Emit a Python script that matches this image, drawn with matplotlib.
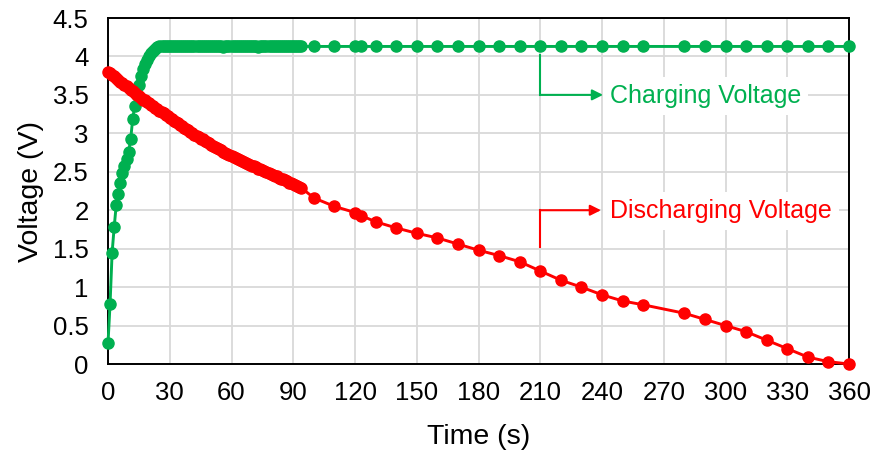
import matplotlib
matplotlib.use("Agg")
import matplotlib.pyplot as plt

plt.rcParams['font.family'] = ['Liberation Sans', 'DejaVu Sans']

# ---- data ----
dense_time = list(range(0, 95))
sparse_time = [100, 110, 120, 123, 130, 140, 150, 160, 170, 180, 190, 200, 210, 220,
               230, 240, 250, 260, 280, 290, 300, 310, 320, 330, 340, 350, 360]

charge_dense = [0.27, 0.78, 1.45, 1.78, 2.07, 2.21, 2.36, 2.48, 2.58, 2.66,
                2.76, 2.92, 3.19, 3.36, 3.50, 3.63, 3.75, 3.84, 3.90, 3.95,
                4.00, 4.04, 4.07, 4.10, 4.12, 4.13, 4.13, 4.14, 4.13, 4.13,
                4.14, 4.13, 4.13, 4.13, 4.14, 4.13, 4.13, 4.13, 4.13, 4.14,
                4.13, 4.13, 4.14, 4.13, 4.13, 4.13, 4.13, 4.14, 4.13, 4.13,
                4.13, 4.13, 4.14, 4.13, 4.13, 4.13, 4.12, 4.13, 4.13, 4.14,
                4.13, 4.13, 4.13, 4.13, 4.14, 4.13, 4.13, 4.13, 4.13, 4.13,
                4.14, 4.13, 4.13, 4.12, 4.13, 4.13, 4.14, 4.13, 4.13, 4.13,
                4.13, 4.13, 4.14, 4.13, 4.13, 4.13, 4.13, 4.13, 4.13, 4.14,
                4.13, 4.13, 4.13, 4.13, 4.13]
charge_sparse = [4.13, 4.13, 4.13, 4.13, 4.13, 4.13, 4.13, 4.13, 4.13, 4.13,
                 4.13, 4.13, 4.13, 4.13, 4.13, 4.13, 4.13, 4.13, 4.13, 4.13,
                 4.13, 4.13, 4.13, 4.13, 4.13, 4.13, 4.13]

discharge_dense = [3.80, 3.78, 3.76, 3.74, 3.72, 3.69, 3.67, 3.65, 3.63, 3.61,
                   3.59, 3.57, 3.55, 3.52, 3.50, 3.48, 3.46, 3.44, 3.43, 3.41,
                   3.39, 3.37, 3.35, 3.33, 3.31, 3.29, 3.28, 3.26, 3.24, 3.22,
                   3.20, 3.18, 3.16, 3.15, 3.13, 3.11, 3.09, 3.07, 3.06, 3.04,
                   3.02, 3.00, 2.98, 2.97, 2.95, 2.93, 2.92, 2.90, 2.89, 2.87,
                   2.85, 2.84, 2.82, 2.81, 2.79, 2.78, 2.76, 2.75, 2.73, 2.72,
                   2.70, 2.69, 2.68, 2.67, 2.65, 2.64, 2.63, 2.62, 2.60, 2.59,
                   2.58, 2.57, 2.56, 2.54, 2.53, 2.52, 2.51, 2.50, 2.48, 2.47,
                   2.46, 2.45, 2.44, 2.42, 2.41, 2.40, 2.39, 2.38, 2.36, 2.35,
                   2.34, 2.33, 2.32, 2.30, 2.29]
discharge_sparse = [2.16, 2.05, 1.97, 1.93, 1.85, 1.77, 1.70, 1.64, 1.56, 1.48,
                    1.41, 1.33, 1.21, 1.09, 1.00, 0.90, 0.82, 0.77, 0.66, 0.58,
                    0.50, 0.42, 0.31, 0.20, 0.09, 0.03, 0.00]

x_ticks = list(range(0, 361, 30))
y_ticks = [0, 0.5, 1, 1.5, 2, 2.5, 3, 3.5, 4, 4.5]
y_tick_labels = ['0', '0.5', '1', '1.5', '2', '2.5', '3', '3.5', '4', '4.5']

charge_label = 'Charging Voltage'
discharge_label = 'Discharging Voltage'

GREEN = '#00B050'
RED = '#FF0000'

# ---- figure ----
fig = plt.figure(figsize=(8.74, 4.5), dpi=100)
ax = fig.add_axes([108 / 874, 1 - 364 / 450, (849 - 108) / 874, (364 - 18) / 450])

t_all = dense_time + sparse_time
ax.plot(t_all, charge_dense + charge_sparse, color=GREEN, lw=2.1, marker='o',
        markersize=8, zorder=3, clip_on=False)
ax.plot(t_all, discharge_dense + discharge_sparse, color=RED, lw=2.1, marker='o',
        markersize=8, zorder=4, clip_on=False)

ax.set_xlim(0, 360)
ax.set_ylim(0, 4.5)
ax.set_xticks(x_ticks)
ax.set_yticks(y_ticks)
ax.set_yticklabels(y_tick_labels)
ax.grid(True, color='#D9D9D9', lw=1.3, zorder=0)
ax.set_axisbelow(True)
ax.tick_params(axis='both', length=0, labelsize=18.5, colors='black')
ax.tick_params(axis='x', pad=12)
ax.tick_params(axis='y', pad=14)
for s in ax.spines.values():
    s.set_color('black')
    s.set_linewidth(1.4)

ax.set_xlabel('Time (s)', fontsize=20.5, labelpad=14)
ax.set_ylabel('Voltage (V)', fontsize=20.5, labelpad=6)

# annotations
ax.plot([210, 210], [4.02, 3.50], color=GREEN, lw=1.5, zorder=5)
ax.annotate('', xy=(240.5, 3.50), xytext=(210, 3.50),
            arrowprops=dict(arrowstyle='-|>', color=GREEN, lw=1.5,
                            mutation_scale=16, shrinkA=0, shrinkB=0), zorder=5)
ax.text(244, 3.49, charge_label, color=GREEN, fontsize=18, va='center', ha='left',
        bbox=dict(facecolor='white', edgecolor='none', pad=5), zorder=2)

ax.plot([210, 210], [1.52, 2.00], color=RED, lw=1.5, zorder=5)
ax.annotate('', xy=(239.5, 2.00), xytext=(210, 2.00),
            arrowprops=dict(arrowstyle='-|>', color=RED, lw=1.5,
                            mutation_scale=16, shrinkA=0, shrinkB=0), zorder=5)
ax.text(244, 1.99, discharge_label, color=RED, fontsize=18, va='center', ha='left',
        bbox=dict(facecolor='white', edgecolor='none', pad=5), zorder=2)

fig.savefig('out.png', dpi=100)
